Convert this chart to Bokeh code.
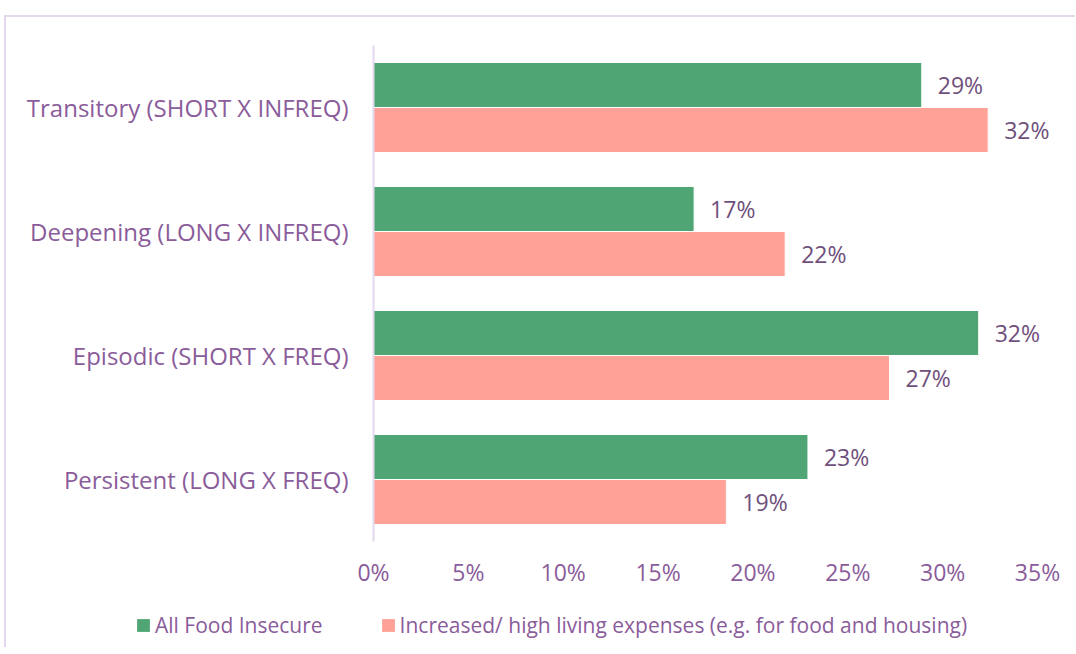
from bokeh.plotting import figure
from bokeh.layouts import column
from bokeh.models import (ColumnDataSource, FactorRange, Range1d, FixedTicker,
                          NumeralTickFormatter, Legend, LegendItem)
from bokeh.transform import dodge
from bokeh.core.properties import value
from bokeh.embed import file_html
from bokeh.resources import INLINE

categories = ["Transitory (SHORT X INFREQ)", "Deepening (LONG X INFREQ)",
              "Episodic (SHORT X FREQ)", "Persistent (LONG X FREQ)"]
all_food_insecure = [0.289, 0.169, 0.319, 0.229]
living_expenses = [0.324, 0.217, 0.272, 0.186]
label_food = ["29%", "17%", "32%", "23%"]
label_expenses = ["32%", "22%", "27%", "19%"]
x_ticks = [0, 0.05, 0.10, 0.15, 0.20, 0.25, 0.30, 0.35]
series_names = ["All Food Insecure", "Increased/ high living expenses (e.g. for food and housing)"]

GREEN = "#4FA573"
PINK = "#FFA196"
TXT = "#8A5C9A"
LBL = "#6F4F7C"
BORDER = "#E4D8EE"
FONT = "Open Sans"
W = 1069

src = ColumnDataSource(dict(cat=categories, food=all_food_insecure, exp=living_expenses,
                            lf=label_food, le=label_expenses))

# frame: canvas x 367..W with 0.35 at 1031
X_END = 0.35 + (W - 1031) * 0.35 / 664

p = figure(width=W, height=588, output_backend="svg", toolbar_location=None,
           y_range=FactorRange(factors=categories[::-1], range_padding=0),
           x_range=Range1d(0, X_END),
           min_border_left=367, min_border_right=0, min_border_top=28, min_border_bottom=64)
p.outline_line_color = None
p.grid.grid_line_color = None
p.background_fill_color = "white"
p.border_fill_color = "white"

r1 = p.hbar(y=dodge("cat", 0.1815, range=p.y_range), right="food", left=0, height=0.363,
            fill_color=GREEN, line_color="white", line_width=1, source=src)
r2 = p.hbar(y=dodge("cat", -0.1815, range=p.y_range), right="exp", left=0, height=0.363,
            fill_color=PINK, line_color="white", line_width=1, source=src)

p.text(x="food", y=dodge("cat", 0.1815, range=p.y_range), text="lf", x_offset=16,
       text_baseline="middle", text_align="left", text_color=LBL,
       text_font=value(FONT), text_font_size="23px", source=src)
p.text(x="exp", y=dodge("cat", -0.1815, range=p.y_range), text="le", x_offset=16,
       text_baseline="middle", text_align="left", text_color=LBL,
       text_font=value(FONT), text_font_size="23px", source=src)

xa = p.xaxis[0]
xa.ticker = FixedTicker(ticks=x_ticks)
xa.formatter = NumeralTickFormatter(format="0%")
xa.axis_line_color = None
xa.major_tick_line_color = None
xa.minor_tick_line_color = None
xa.major_label_standoff = 8
xa.major_label_text_font = FONT
xa.major_label_text_font_size = "23px"
xa.major_label_text_color = TXT

ya = p.yaxis[0]
ya.axis_line_color = BORDER
ya.axis_line_width = 2
ya.major_tick_line_color = None
ya.minor_tick_line_color = None
ya.major_label_standoff = 19
ya.major_label_text_font = FONT
ya.major_label_text_font_size = "24px"
ya.major_label_text_color = TXT

# legend strip (separate root so its frame is not aligned with the chart's frame)
lf = figure(width=W, height=42, output_backend="svg", toolbar_location=None,
            x_range=Range1d(0, 1), y_range=Range1d(0, 1),
            x_axis_type=None, y_axis_type=None,
            min_border_left=0, min_border_right=0, min_border_top=0, min_border_bottom=0)
lf.outline_line_color = None
lf.grid.grid_line_color = None
lf.border_fill_color = "white"
lf.background_fill_color = "white"
g1 = lf.hbar(y=[2], right=[2], left=[1.5], height=0.5, fill_color=GREEN, line_color=None)
g2 = lf.hbar(y=[2], right=[2], left=[1.5], height=0.5, fill_color=PINK, line_color=None)
legend = Legend(items=[LegendItem(label=series_names[0], renderers=[g1]),
                       LegendItem(label=series_names[1], renderers=[g2])],
                orientation="horizontal", location=(129, 8),
                glyph_width=16, glyph_height=16, label_standoff=4, spacing=57,
                padding=0, margin=0, border_line_color=None, background_fill_alpha=0,
                label_text_font=FONT, label_text_font_size="21px", label_text_color=TXT)
lf.add_layout(legend, "center")

top = column(p, spacing=0,
             styles={"margin-top": "15px", "margin-left": "4px",
                     "border-top": "2px solid " + BORDER,
                     "border-left": "2px solid " + BORDER})
bottom = column(lf, spacing=0,
                styles={"margin-left": "4px", "border-left": "2px solid " + BORDER})

open("out.html", "w").write(file_html([top, bottom], INLINE))
